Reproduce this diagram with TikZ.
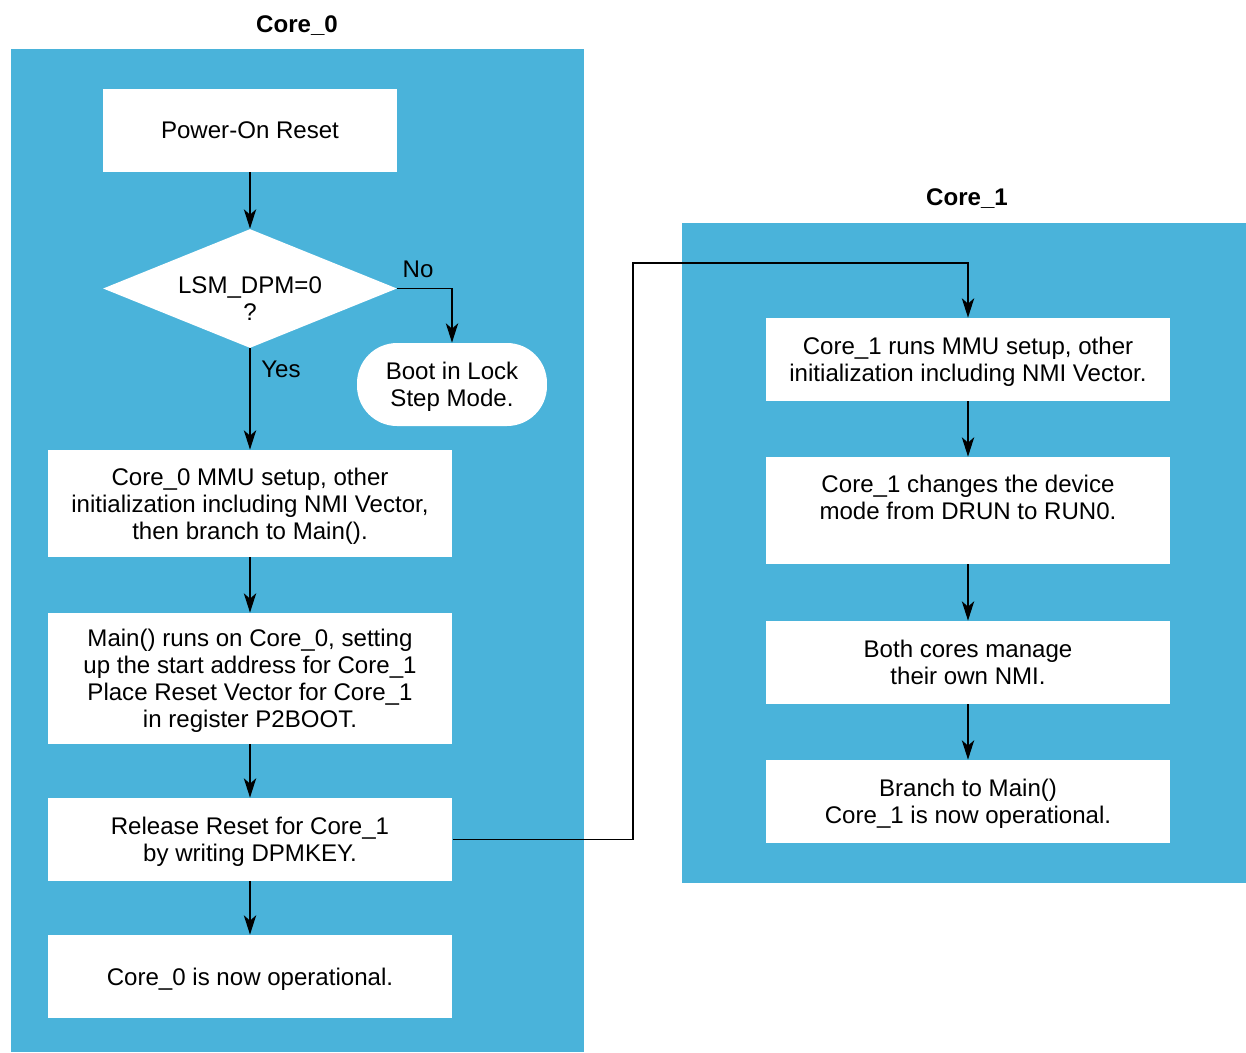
\documentclass[tikz,border=0pt]{standalone}
\usepackage{fontspec}
\setmainfont{Liberation Sans}
\usepackage{xcolor}
\usepackage{tikz}
\usetikzlibrary{shapes.geometric, arrows.meta, calc, positioning}

\definecolor{corefill}{RGB}{74,179,218}

\begin{document}
\begin{tikzpicture}[x=0.02cm, y=-0.02cm,
		arrow/.style = {line width=1.1pt,-{Stealth[length=11pt,width=7pt,inset=3pt]}},
		font=\fontsize{13.7pt}{15.3pt}\selectfont]
				\tikzset{box/.style={draw=none,rectangle,inner sep=0pt,fill=white,align=center,minimum height=1.66cm,text depth=0pt}}
				\tikzset{title/.style={font=\fontsize{13.7pt}{15.3pt}\selectfont\bfseries}}

				\useasboundingbox (0,0) rectangle (1246,1052);

				% the two cores
				\fill[corefill] (11,49) rectangle (584,1052);
				\fill[corefill] (682,223) rectangle (1246,883);
				\node[title] (titlea) at (297,26) {Core\_0};
				\node[title] (titleb) at (967,199) {Core\_1};

				% Core_0
				\node[box, minimum width=5.9cm] (por) at (250,130.5) {Power-On Reset};
				\node[diamond, aspect=2.47, minimum width=5.88cm, minimum height=2.38cm, inner sep=0pt, fill=white] (lsm) at (250,288.5) {};
				\node[align=center, inner sep=0pt] (lsmtext) at (250,299) {LSM\_DPM=0\\?};
				\node[box, minimum width=3.8cm, rounded corners=0.8cm] (lock) at (452,384.5) {Boot in Lock\\Step Mode.};
				\node[box, minimum width=8.1cm, minimum height=2.14cm] (mmua) at (250,503.5) {Core\_0 MMU setup, other\\initialization including NMI Vector,\\then branch to Main().};
				\node[box, minimum width=8.1cm, minimum height=2.62cm] (maina) at (250,678.5) {Main() runs on Core\_0, setting\\up the start address for Core\_1\\Place Reset Vector for Core\_1\\in register P2BOOT.};
				\node[box, minimum width=8.1cm] (release) at (250,839.5) {Release Reset for Core\_1\\by writing DPMKEY.};
				\node[box, minimum width=8.1cm] (opa) at (250,976.5) {Core\_0 is now operational.};

				\node (yes) at (281,369) {Yes};
				\node (no) at (418,269) {No};

				% Core_1
				\node[box, minimum width=8.08cm] (mmub) at (968,359.5) {Core\_1 runs MMU setup, other\\initialization including NMI Vector.};
				\node[box, minimum width=8.08cm, minimum height=2.14cm] (mode) at (968,510.5) {Core\_1 changes the device\\mode from DRUN to RUN0.\\\mbox{}};
				\node[box, minimum width=8.08cm] (nmi) at (968,662.5) {Both cores manage\\their own NMI.};
				\node[box, minimum width=8.08cm] (opb) at (968,801.5) {Branch to Main()\\Core\_1 is now operational.};

				\coordinate (bend) at (633,263);

				\draw [arrow] (por) -- (lsm);
				\draw [arrow] (lsm.east) -| (lock.north);
				\draw [arrow] (lsm) -- (mmua);
				\draw [arrow] (mmua) -- (maina);
				\draw [arrow] (maina) -- (release);
				\draw [arrow] (release) -- (opa);
				\draw [arrow] (release.east) -| (bend) -| (mmub.north);
				\draw [arrow] (mmub) -- (mode);
				\draw [arrow] (mode) -- (nmi);
				\draw [arrow] (nmi) -- (opb);

			\end{tikzpicture}
\end{document}
